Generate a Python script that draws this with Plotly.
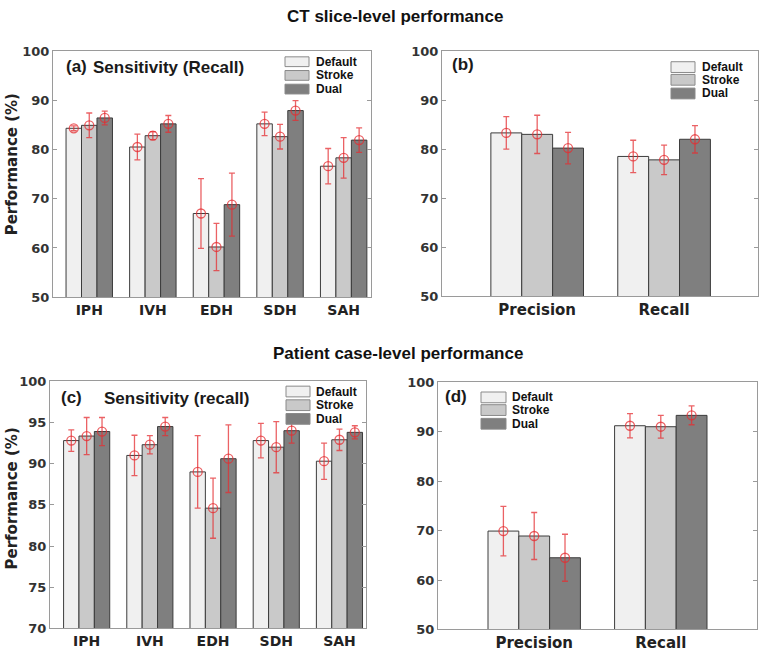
import plotly.graph_objects as go

# ---------------- data ----------------
hem_types = ["IPH", "IVH", "EDH", "SDH", "SAH"]
metrics = ["Precision", "Recall"]
models = ["Default", "Stroke", "Dual"]

# (a) CT slice-level sensitivity
slice_sens_default = [84.3, 80.5, 67.0, 85.2, 76.6]
slice_sens_default_err = [0.5, 2.6, 7.1, 2.4, 3.6]
slice_sens_stroke = [84.9, 82.8, 60.2, 82.6, 78.3]
slice_sens_stroke_err = [2.5, 0.8, 4.8, 2.5, 4.1]
slice_sens_dual = [86.4, 85.2, 68.8, 87.9, 81.9]
slice_sens_dual_err = [1.4, 1.7, 6.4, 2.0, 2.5]

# (b) CT slice-level precision / recall
slice_pr_default = [83.3, 78.5]
slice_pr_default_err = [3.3, 3.3]
slice_pr_stroke = [83.0, 77.8]
slice_pr_stroke_err = [3.9, 3.0]
slice_pr_dual = [80.2, 82.0]
slice_pr_dual_err = [3.2, 2.8]

# (c) patient case-level sensitivity
case_sens_default = [92.8, 91.0, 89.0, 92.8, 90.3]
case_sens_default_err = [1.3, 2.45, 4.4, 2.1, 2.2]
case_sens_stroke = [93.35, 92.3, 84.6, 92.0, 92.9]
case_sens_stroke_err = [2.25, 1.1, 3.65, 3.1, 1.3]
case_sens_dual = [93.9, 94.5, 90.6, 94.0, 93.8]
case_sens_dual_err = [1.7, 1.1, 4.1, 1.5, 0.8]

# (d) patient case-level precision / recall
case_pr_default = [69.9, 91.2]
case_pr_default_err = [5.0, 2.45]
case_pr_stroke = [68.9, 91.0]
case_pr_stroke_err = [4.75, 2.3]
case_pr_dual = [64.5, 93.3]
case_pr_dual_err = [4.75, 1.9]

y_ticks_main = [50, 60, 70, 80, 90, 100]
y_ticks_case_sens = [70, 75, 80, 85, 90, 95, 100]

# ---------------- styling ----------------
W, H = 761, 657
bar_colors = ["#f0f0f0", "#c9c9c9", "#7f7f7f"]
bar_line = "#3c3c3c"
err_color = "rgba(228,45,50,0.75)"
frame_color = "#9a9a9a"
tick_font = dict(family="DejaVu Sans", size=13, color="#333333", weight="bold")
cat_font_small = dict(family="DejaVu Sans", size=14, color="#222222", weight="bold")
cat_font_big = dict(family="DejaVu Sans", size=15, color="#222222", weight="bold")


def px2x(px):
    return min(1.0, max(0.0, px / W))


def px2y(py):
    return min(1.0, max(0.0, 1 - py / H))


fig = go.Figure()

panels = [
    ("", hem_types,
     [slice_sens_default, slice_sens_stroke, slice_sens_dual],
     [slice_sens_default_err, slice_sens_stroke_err, slice_sens_dual_err],
     (53, 371), (45, 297), [50, 100], y_ticks_main, [-0.57, 4.43], cat_font_small),
    ("2", metrics,
     [slice_pr_default, slice_pr_stroke, slice_pr_dual],
     [slice_pr_default_err, slice_pr_stroke_err, slice_pr_dual_err],
     (442, 758), (45, 296), [50, 100], y_ticks_main, [-0.75, 1.74], cat_font_big),
    ("3", hem_types,
     [case_sens_default, case_sens_stroke, case_sens_dual],
     [case_sens_default_err, case_sens_stroke_err, case_sens_dual_err],
     (50, 366), (383, 636), [70, 100], y_ticks_case_sens, [-0.58, 4.42], cat_font_small),
    ("4", metrics,
     [case_pr_default, case_pr_stroke, case_pr_dual],
     [case_pr_default_err, case_pr_stroke_err, case_pr_dual_err],
     (438, 757), (384, 637), [50, 100], y_ticks_main, [-0.76, 1.76], cat_font_big),
]

layout_axes = {}
for suffix, cats, series, errs, xd, yd, yr, yt, xr, cfont in panels:
    xa = "x" + suffix
    ya = "y" + suffix
    for i, (vals, ev) in enumerate(zip(series, errs)):
        fig.add_trace(go.Bar(
            x=cats, y=vals, name=models[i], showlegend=False,
            xaxis=xa, yaxis=ya, offsetgroup=str(i),
            marker=dict(color=bar_colors[i], line=dict(color=bar_line, width=1)),
            error_y=dict(type="data", array=ev, color=err_color, thickness=1.3, width=3),
            hoverinfo="skip",
        ))
    for i, vals in enumerate(series):
        fig.add_trace(go.Scatter(
            x=cats, y=vals, mode="markers", showlegend=False,
            xaxis=xa, yaxis=ya, offsetgroup=str(i),
            marker=dict(symbol="circle-open", size=9, color=err_color,
                        line=dict(width=1.3, color=err_color)),
            hoverinfo="skip",
        ))
    layout_axes["xaxis" + suffix] = dict(
        domain=[px2x(xd[0]), px2x(xd[1])], anchor=ya, type="category",
        range=xr, showline=True, mirror=True, linecolor=frame_color, linewidth=1,
        ticks="", showgrid=False, zeroline=False, tickfont=cfont, fixedrange=True,
    )
    layout_axes["yaxis" + suffix] = dict(
        domain=[px2y(yd[1]), px2y(yd[0])], anchor=xa, range=yr,
        tickvals=yt, ticks="inside", ticklen=4, tickcolor=frame_color,
        showline=True, mirror="ticks", linecolor=frame_color, linewidth=1,
        showgrid=False, zeroline=False, tickfont=tick_font, fixedrange=True,
    )

# ---------------- legends (drawn boxes + labels) ----------------
shapes = []
annotations = []
legend_specs = [
    (285, 309, [51, 65, 79], 10, 315),
    (671, 695, [56, 69, 83], 11, 701),
    (286, 310, [388, 402, 416], 11, 315),
    (481, 506, [394, 407, 421], 11, 511),
]
legend_font = dict(family="Liberation Sans", size=12, color="#111111", weight="bold")
for bl, br, tops, rh, tx in legend_specs:
    for i, top in enumerate(tops):
        shapes.append(dict(
            type="rect", xref="paper", yref="paper",
            x0=px2x(bl), x1=px2x(br), y0=px2y(top + rh), y1=px2y(top),
            fillcolor=bar_colors[i], line=dict(color="#8a8a8a", width=1),
        ))
        annotations.append(dict(
            x=px2x(tx), y=px2y(top + rh / 2), xref="paper", yref="paper",
            text=models[i], showarrow=False, xanchor="left", yanchor="middle",
            font=legend_font, borderpad=0,
        ))

label_font = dict(family="Liberation Sans", size=17, color="#1a1a1a", weight="bold")
panel_labels = [
    ("(a)", 64, 61), ("(b)", 450, 59), ("(c)", 59, 400), ("(d)", 443, 399),
]
for txt, x, y in panel_labels:
    annotations.append(dict(x=px2x(x), y=px2y(y), xref="paper", yref="paper",
                            text=txt, showarrow=False, xanchor="left", yanchor="middle",
                            font=label_font))
annotations.append(dict(x=px2x(91), y=px2y(62), xref="paper", yref="paper",
                        text="Sensitivity (Recall)", showarrow=False,
                        xanchor="left", yanchor="middle", font=label_font))
annotations.append(dict(x=px2x(102), y=px2y(401), xref="paper", yref="paper",
                        text="Sensitivity (recall)", showarrow=False,
                        xanchor="left", yanchor="middle", font=label_font))

title_font = dict(family="Liberation Sans", size=17, color="#111111", weight="bold")
annotations.append(dict(x=px2x(395), y=px2y(10), xref="paper", yref="paper",
                        text="CT slice-level performance", showarrow=False,
                        xanchor="center", yanchor="middle", font=title_font, borderpad=0))
annotations.append(dict(x=px2x(398), y=px2y(355), xref="paper", yref="paper",
                        text="Patient case-level performance", showarrow=False,
                        xanchor="center", yanchor="middle", font=title_font))

ytitle_font = dict(family="DejaVu Sans", size=15, color="#222222", weight="bold")
for yc in (161, 503):
    annotations.append(dict(x=px2x(12), y=px2y(yc), xref="paper", yref="paper",
                            text="Performance (%)", showarrow=False, textangle=-90,
                            xanchor="center", yanchor="middle", font=ytitle_font,
                            borderpad=0))

fig.update_layout(
    width=W, height=H, autosize=False,
    margin=dict(l=0, r=0, t=0, b=0),
    paper_bgcolor="white", plot_bgcolor="white",
    barmode="group", bargap=0.27, bargroupgap=0,
    scattermode="group",
    shapes=shapes, annotations=annotations,
    showlegend=False,
    **layout_axes,
)

fig.write_html(
    "out.html",
    config={"displayModeBar": False},
    post_script="document.body.style.margin='0';document.body.style.padding='0';"
                "document.body.style.overflow='hidden';"
                "document.documentElement.style.overflow='hidden';",
)
